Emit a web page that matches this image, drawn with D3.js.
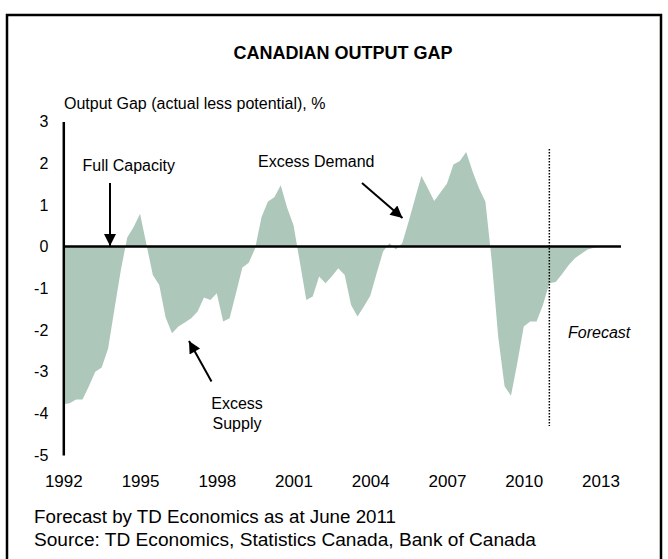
<!DOCTYPE html>
<html>
<head>
<meta charset="utf-8">
<script src="https://cdn.jsdelivr.net/npm/d3@7"></script>
<style>
  html, body { margin: 0; padding: 0; background: #fff; }
  svg { display: block; font-family: "Liberation Sans", Arial, sans-serif; }
</style>
</head>
<body>
<svg id="chart" width="668" height="559"></svg>
<script>
// ---- data (quarterly, starting 1992 Q1) ----
const startYear = 1992;
const gapValues = [
  -3.78, -3.76, -3.67, -3.67, -3.35, -3.00, -2.90, -2.45, -1.50, -0.56,
   0.22,  0.47,  0.79,  0.05, -0.68, -0.92, -1.70, -2.08, -1.92, -1.82,
  -1.72, -1.56, -1.22, -1.28, -1.12, -1.80, -1.72, -1.12, -0.50, -0.39,
  -0.04,  0.71,  1.08,  1.18,  1.47,  0.93,  0.51, -0.38, -1.28, -1.20,
  -0.72, -0.88, -0.71, -0.52, -0.68, -1.40, -1.68, -1.44, -1.18, -0.64,
  -0.12,  0.08, -0.07,  0.08,  0.60,  1.15,  1.69,  1.40,  1.09,  1.30,
   1.51,  1.97,  2.05,  2.27,  1.80,  1.40,  1.08, -0.35, -2.16, -3.35,
  -3.58, -2.79, -1.92, -1.80, -1.80, -1.40, -0.88, -0.85, -0.66, -0.45,
  -0.28, -0.17, -0.07, -0.03, -0.01,  0.00,  0.00
];
const xTickYears = [1992, 1995, 1998, 2001, 2004, 2007, 2010, 2013];
const yTickValues = [-5, -4, -3, -2, -1, 0, 1, 2, 3];
const forecastStart = 2011; // first forecast quarter (2011 Q1)
const titleText = "CANADIAN OUTPUT GAP";
const yAxisTitle = "Output Gap (actual less potential), %";
const footnotes = ["Forecast by TD Economics as at June 2011",
                   "Source: TD Economics, Statistics Canada, Bank of Canada"];

const data = gapValues.map((v, i) => ({ t: startYear + i / 4, v }));

// ---- layout ----
const svg = d3.select("#chart");
const x = d3.scaleLinear().domain([1992, 2013]).range([63.3, 600.5]);
const y = d3.scaleLinear().domain([-5, 3]).range([455, 121.5]);
const plainFmt = d => String(d);

// border
svg.append("path")
  .attr("d", "M7,600 L7,15 L661,15 L661,600")
  .attr("fill", "none").attr("stroke", "#000").attr("stroke-width", 2.5);

// title
svg.append("text").attr("x", 343).attr("y", 58.5)
  .attr("text-anchor", "middle").attr("font-size", 18).attr("font-weight", "bold")
  .text(titleText);

svg.append("text").attr("x", 64).attr("y", 108.5)
  .attr("font-size", 16).text(yAxisTitle);

// area
const area = d3.area().x(d => x(d.t)).y0(y(0)).y1(d => y(d.v));
svg.append("path").datum(data).attr("d", area).attr("fill", "#adc7bb");

// zero line
svg.append("line")
  .attr("x1", x(1992)).attr("x2", x(2013.8))
  .attr("y1", y(0)).attr("y2", y(0))
  .attr("stroke", "#000").attr("stroke-width", 2.5);

// y axis
const yAxis = svg.append("g").attr("transform", `translate(${x(1992)},0)`)
  .call(d3.axisLeft(y).tickValues(yTickValues).tickSize(0).tickPadding(15).tickFormat(plainFmt));
yAxis.select(".domain").attr("stroke", "#000").attr("stroke-width", 2.5);
yAxis.selectAll("text").attr("font-size", 16).attr("fill", "#000")
  .attr("font-family", "Liberation Sans, Arial, sans-serif");

// x axis labels
const xAxis = svg.append("g").attr("transform", `translate(0,${y(-5)})`)
  .call(d3.axisBottom(x).tickValues(xTickYears).tickSize(0).tickPadding(20).tickFormat(plainFmt));
xAxis.select(".domain").remove();
xAxis.selectAll("text").attr("font-size", 17).attr("fill", "#000")
  .attr("font-family", "Liberation Sans, Arial, sans-serif");

// forecast divider
svg.append("line")
  .attr("x1", x(forecastStart)).attr("x2", x(forecastStart))
  .attr("y1", 149).attr("y2", 426)
  .attr("stroke", "#000").attr("stroke-width", 1.5).attr("stroke-dasharray", "1.5,1.5");

svg.append("text").attr("x", 568).attr("y", 338)
  .attr("font-size", 16).attr("font-style", "italic").text("Forecast");

// arrows
const defs = svg.append("defs");
defs.append("marker").attr("id", "arrow")
  .attr("viewBox", "0 0 10 10").attr("refX", 10).attr("refY", 5)
  .attr("markerUnits", "userSpaceOnUse")
  .attr("markerWidth", 17).attr("markerHeight", 12).attr("orient", "auto")
  .append("path").attr("d", "M0,0 L10,5 L0,10 Z").attr("fill", "#000");

function arrow(x1, y1, x2, y2) {
  svg.append("line").attr("x1", x1).attr("y1", y1).attr("x2", x2).attr("y2", y2)
    .attr("stroke", "#000").attr("stroke-width", 2).attr("marker-end", "url(#arrow)");
}
arrow(110, 183, 110, 246);
arrow(362, 183, 402.5, 218);
arrow(211.5, 381.5, 189, 341);

// annotations
svg.append("text").attr("x", 82.5).attr("y", 171).attr("font-size", 16).text("Full Capacity");
svg.append("text").attr("x", 258).attr("y", 167).attr("font-size", 16).text("Excess Demand");
svg.append("text").attr("x", 237).attr("y", 408.5).attr("text-anchor", "middle").attr("font-size", 16).text("Excess");
svg.append("text").attr("x", 237).attr("y", 429).attr("text-anchor", "middle").attr("font-size", 16).text("Supply");

// footnotes
const footWidths = [362, 502];
svg.selectAll("text.foot").data(footnotes).enter().append("text")
  .attr("class", "foot").attr("x", 34).attr("y", (d, i) => 523 + i * 23)
  .attr("font-size", 17.5)
  .attr("textLength", (d, i) => footWidths[i]).attr("lengthAdjust", "spacingAndGlyphs")
  .text(d => d);
</script>
</body>
</html>
